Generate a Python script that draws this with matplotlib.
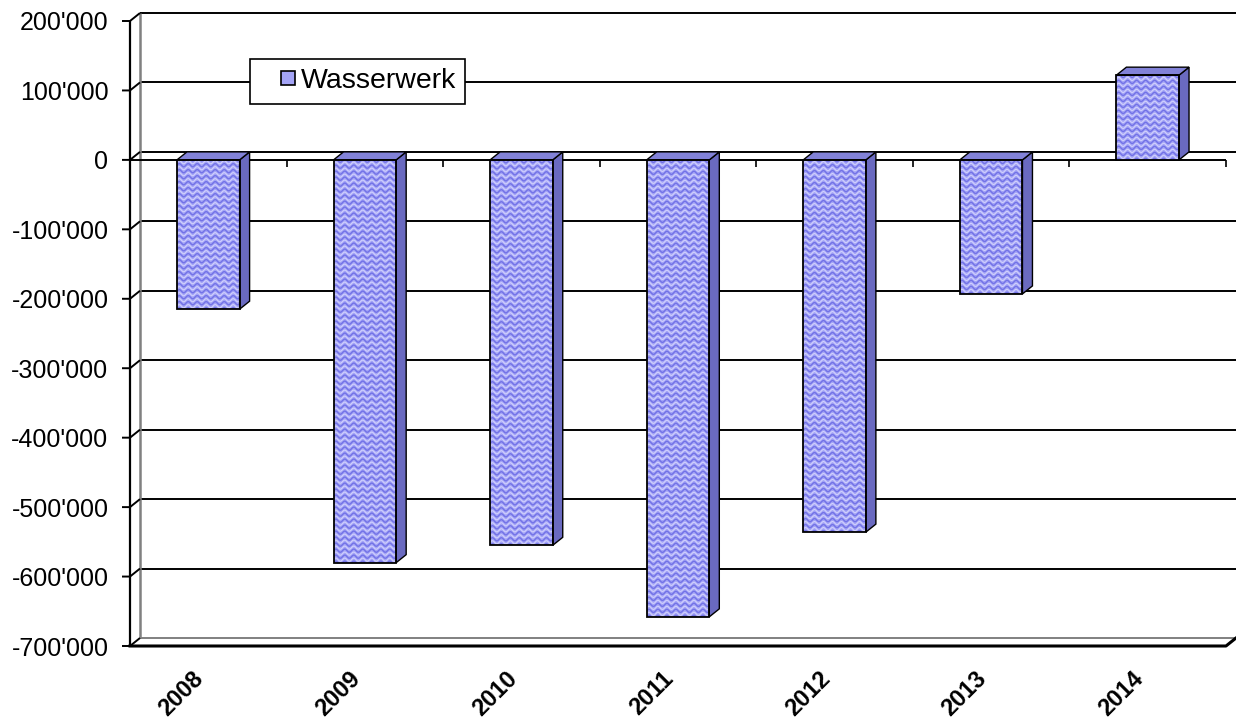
import numpy as np
import matplotlib
matplotlib.use("Agg")
import matplotlib.pyplot as plt
from matplotlib.patches import Polygon
from matplotlib.lines import Line2D
from matplotlib.ticker import FuncFormatter

# ---- data -------------------------------------------------------------
years = ["2008", "2009", "2010", "2011", "2012", "2013", "2014"]
values = [-215000, -580000, -555000, -658000, -536000, -193000, 122000]
series_name = "Wasserwerk"
y_ticks = list(range(-700000, 200001, 100000))

# ---- style ------------------------------------------------------------
plt.rcParams["font.family"] = ["Liberation Sans", "DejaVu Sans"]
FACE = "#A4A4F6"
WAVE_DARK = "#6A6AE4"
WAVE_LIGHT = "#E0E0FF"
SIDE = "#6A6AC0"
TOP = "#8282D8"

W, H, DPI = 1236, 718, 100
fig = plt.figure(figsize=(W / DPI, H / DPI), dpi=DPI)
fig.patch.set_facecolor("white")

# front plane of the plot area in pixels
left_px, right_px, top_px, bottom_px = 130, 1226, 21, 646
ax = fig.add_axes([left_px / W, 1 - bottom_px / H,
                   (right_px - left_px) / W, (bottom_px - top_px) / H])
ax.set_facecolor("none")
n = len(years)
x = np.arange(n)
xmin, xmax = -0.5, n - 0.5
ymin, ymax = y_ticks[0], y_ticks[-1]
ax.set_xlim(xmin, xmax)
ax.set_ylim(ymin, ymax)
for s in ax.spines.values():
    s.set_visible(False)

# pixel -> data unit conversions for the depth effect
ux = (xmax - xmin) / (right_px - left_px)
uy = (ymax - ymin) / (bottom_px - top_px)
dx, dy = 10 * ux, 8 * uy

kw = dict(clip_on=False, solid_capstyle="butt")

# back wall gridlines
for v in y_ticks:
    col = "#808080" if v == ymin else "black"
    ax.plot([xmin + dx, xmax + dx], [v + dy, v + dy], color=col, lw=1.4, zorder=1, **kw)
# back wall left edge
ax.plot([xmin + dx] * 2, [ymin + dy, ymax + dy], color="#808080", lw=1.8, zorder=1, **kw)
# front left edge with ticks and depth connectors
ax.plot([xmin, xmin], [ymin, ymax], color="black", lw=1.6, zorder=2, **kw)
for v in y_ticks:
    ax.plot([xmin - 8 * ux, xmin, xmin + dx], [v, v, v + dy], color="black", lw=1.4,
            zorder=2, **kw)
# floor front edge
ax.plot([xmin, xmax, xmax + dx], [ymin, ymin, ymin + dy], color="black", lw=2.2,
        zorder=2, clip_on=False)
# category axis at zero
ax.plot([xmin, xmax], [0, 0], color="black", lw=1.4, zorder=2, **kw)
for b in np.arange(0.5, n, 1.0):
    ax.plot([b, b], [0, -7 * uy], color="black", lw=1.2, zorder=2, **kw)

# ---- bars -------------------------------------------------------------
bw = 0.4
base = ax.bar(x, values, width=bw, color=FACE, edgecolor="none", zorder=3)

wave_len = 9 * ux
amp = 1.6 * uy
row = 6 * uy
for rect, v in zip(base.patches, values):
    xl = rect.get_x()
    xr = xl + bw
    lo, hi = min(v, 0), max(v, 0)
    xs = np.linspace(xl, xr, 80)
    phase = 2 * np.pi * (xs - xl) / wave_len
    yy = lo
    while yy < hi + row:
        l1, = ax.plot(xs, yy + amp * np.sin(phase), color=WAVE_DARK, lw=1.0,
                      alpha=0.85, zorder=3.2)
        l2, = ax.plot(xs, yy + row / 2 + amp * np.sin(phase), color=WAVE_LIGHT,
                      lw=0.8, alpha=0.75, zorder=3.2)
        l1.set_clip_path(rect)
        l2.set_clip_path(rect)
        yy += row
    top_y = hi
    side = Polygon([(xr, 0), (xr, v), (xr + dx, v + dy), (xr + dx, dy)],
                   closed=True, facecolor=SIDE, edgecolor="black", lw=1.0,
                   zorder=3.4, clip_on=False)
    top = Polygon([(xl, top_y), (xr, top_y), (xr + dx, top_y + dy), (xl + dx, top_y + dy)],
                  closed=True, facecolor=TOP, edgecolor="black", lw=1.0,
                  zorder=3.4, clip_on=False)
    ax.add_patch(side)
    ax.add_patch(top)

ax.bar(x, values, width=bw, fill=False, edgecolor="black", lw=1.3, zorder=3.6)

# ---- axes text --------------------------------------------------------
ax.set_yticks(y_ticks)
ax.yaxis.set_major_formatter(FuncFormatter(lambda v, p: f"{int(v):,}".replace(",", "'")))
ax.tick_params(axis="y", length=0, pad=15.5, labelsize=18)
ax.set_xticks(x, years)
ax.tick_params(axis="x", length=0, pad=15.0)
for lab in ax.get_xticklabels():
    lab.set_rotation(45)
    lab.set_ha("right")
    lab.set_fontweight("bold")
    lab.set_fontsize(17)

# ---- legend -----------------------------------------------------------
handle = Line2D([], [], marker="s", ls="none", markersize=10,
                markerfacecolor=FACE, markeredgecolor="black", markeredgewidth=1.2)
leg = ax.legend([handle], [series_name], loc="upper left",
                bbox_to_anchor=(250 / W, 1 - 59 / H), bbox_transform=fig.transFigure,
                fontsize=20.5, frameon=True, fancybox=False, edgecolor="black",
                framealpha=1, borderpad=0.33, handlelength=2.0, handletextpad=-0.55,
                borderaxespad=0)
leg.get_frame().set_linewidth(1.2)
leg.set_zorder(6)

fig.savefig("out.png", dpi=DPI, facecolor="white")
